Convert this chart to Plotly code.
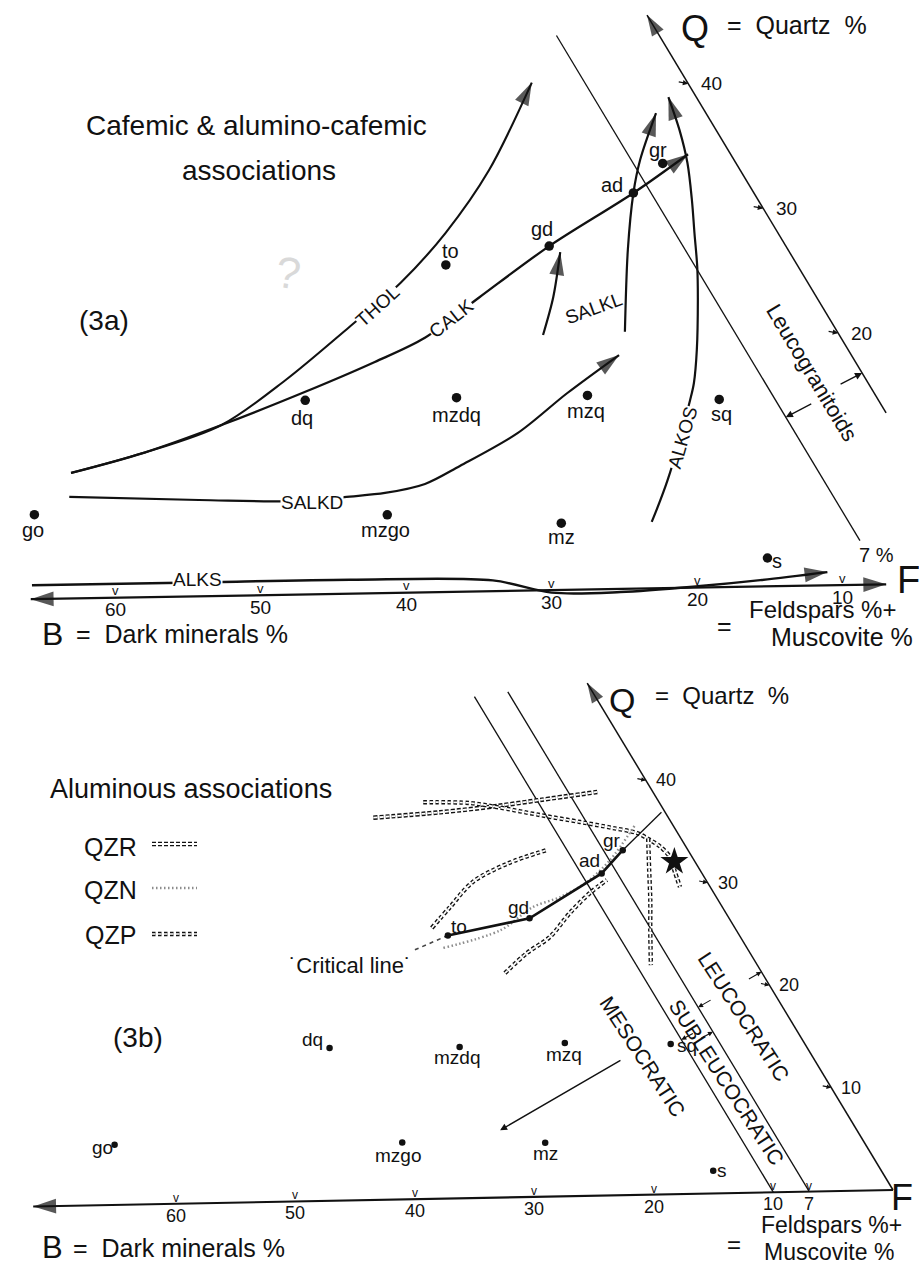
import math
import plotly.graph_objects as go

INK = "#111111"
FONT = "Liberation Sans, Arial, Helvetica, sans-serif"
W, H = 919, 1266

# ---------------- data  (B = dark minerals %, Q = quartz %) ----------------
rock_names = ["go", "mzgo", "mz", "s", "dq", "mzdq", "mzq", "sq", "to", "gd", "ad", "gr"]
rock_B_3a = [62.1, 38.1, 26.6, 14.0, 39.0, 28.6, 19.6, 10.8, 23.9, 16.1, 8.2, 5.0]
rock_Q_3a = [6.7, 6.2, 5.3, 2.25, 15.4, 15.4, 15.4, 14.9, 25.95, 27.3, 31.4, 33.7]
rock_B_3b = [62.1, 38.2, 26.4, 13.9, 39.5, 28.7, 19.8, 11.1, 24.1, 16.5, 8.3, 5.4]
rock_Q_3b = [5.8, 5.5, 5.2, 2.2, 14.75, 14.6, 14.8, 14.5, 25.4, 26.9, 31.1, 33.3]

b_ticks_3a = [60, 50, 40, 30, 20, 10]
b_ticks_3b = [60, 50, 40, 30, 20, 10, 7]
q_ticks_3a = [40, 30, 20]
q_ticks_3b = [40, 30, 20, 10]

# 3a : cafemic trends
thol_B = [57.9, 52.2, 45.7, 39.5, 33.0, 27.7, 22.6, 17.1, 10.6]
thol_Q = [9.96, 11.44, 13.56, 17.04, 21.16, 24.6, 28.5, 33.4, 40.3]
calk_B = [57.9, 52.2, 45.7, 38.7, 32.7, 28.3, 23.0, 16.1, 8.2, 2.9]
calk_Q = [9.96, 11.44, 13.56, 16.06, 18.35, 20.2, 23.3, 27.3, 31.4, 34.4]
salkd_B = [59.0, 50.3, 42.8, 40.3, 37.36, 34.27, 31.16, 25.9, 20.9, 15.8]
salkd_Q = [8.06, 7.64, 7.4, 7.67, 7.94, 8.6, 9.98, 12.5, 15.6, 18.56]
salkl_B = [14.45, 10.9, 8.2, 6.4, 3.4]
salkl_Q = [20.4, 26.9, 31.4, 34.0, 37.7]
salkl2_B = [20.15, 17.9, 15.6]
salkl2_Q = [20.26, 23.26, 26.8]
alkos_B = [20.4, 17.6, 12.8, 11.85, 10.3, 8.2, 6.9, 5.7, 4.5, 3.3, 2.5, 1.9]
alkos_Q = [5.27, 8.58, 14.9, 16.24, 18.86, 22.8, 25.4, 28.1, 30.78, 33.7, 36.3, 38.96]
alks_B = [65.15, 53.9, 43.3, 33.6, 30.1, 25.4, 19.9, 15.4, 10.5]
alks_Q = [1.1, 1.1, 1.1, 0.85, -0.2, -0.25, 0.1, 0.5, 1.05]

# 3b : aluminous trends
qzr_a_B = [24.4, 18.6, 13.6, 9.75, 4.6]
qzr_a_Q = [36.9, 37.3, 37.8, 38.3, 38.97]
qzr_c_B = [25.06, 22.5, 19.4, 15.65, 11.66]
qzr_c_Q = [26.15, 28.14, 30.5, 32.2, 33.46]
qzp_b_B = [19.5, 15.7, 13.65, 10.5, 7.5, 5.1, 3.36, 2.64, 2.13, 1.84, 2.17, 2.5]
qzp_b_Q = [38.3, 38.14, 37.7, 36.85, 36.1, 35.46, 34.93, 34.24, 33.6, 32.56, 31.1, 29.64]
qzp_e_B = [2.7, 4.2, 5.6, 7.1, 8.8]
qzp_e_Q = [34.4, 31.34, 28.45, 25.55, 22.16]
qzp_d_B = [21.26, 18.45, 15.75, 12.9, 10.25, 8.2]
qzp_d_Q = [21.66, 23.55, 25.06, 27.34, 29.23, 30.45]
qzn_B = [25.1, 19.5, 15.66, 12.9, 9.95, 6.94, 3.13]
qzn_Q = [24.2, 25.8, 27.98, 28.9, 30.3, 32.37, 35.7]
crit_ext_B = [5.4, 0.3]
crit_ext_Q = [33.3, 36.9]
crit_dash_B = [24.1, 27.6]
crit_dash_Q = [25.4, 24.05]
star_B = [1.7]
star_Q = [32.1]

# ---------------- geometry of the two (B,Q) ternary frames ----------------
# (F-corner px, F-corner py, px per %, scan rotation)
PA = (988.0, 582.5, 14.55, math.radians(1.0))
PB = (893.0, 1190.0, 11.96, math.radians(1.1))
S3 = math.sqrt(3) / 2


def proj(B, Q, P):
    ox, oy, s, th = P
    u = -(B + Q / 2.0)
    v = Q * S3
    c, sn = math.cos(th), math.sin(th)
    ur = u * c - v * sn
    vr = u * sn + v * c
    return ox + s * ur, oy - s * vr


def pts(Bs, Qs, P):
    xy = [proj(b, q, P) for b, q in zip(Bs, Qs)]
    return [p[0] for p in xy], [p[1] for p in xy]


fig = go.Figure()


def curve(Bs, Qs, P, width=2.2, color=INK, dash=None, smooth=True,
          head_end=False, head_start=False, head=24):
    xs, ys = pts(Bs, Qs, P)
    fig.add_trace(go.Scatter(
        x=xs, y=ys, mode="lines",
        line=dict(color=color, width=width, dash=dash,
                  shape="spline" if smooth else "linear", smoothing=0.9),
        hoverinfo="skip", showlegend=False))
    heads = []
    if head_end:
        heads.append(([xs[-2], xs[-1]], [ys[-2], ys[-1]]))
    if head_start:
        heads.append(([xs[1], xs[0]], [ys[1], ys[0]]))
    for hx, hy in heads:
        fig.add_trace(go.Scatter(
            x=hx, y=hy, mode="markers",
            marker=dict(symbol="arrow", size=[0, head], angleref="previous",
                        color=color, line=dict(width=0)),
            hoverinfo="skip", showlegend=False))


def ring_curve(Bs, Qs, P, w_out, w_in, dash):
    curve(Bs, Qs, P, width=w_out, color=INK, dash=dash)
    curve(Bs, Qs, P, width=w_in, color="white", dash=dash)


def text(x, y, s, size, angle=0, xanchor="center", bg=None, color=INK, xs=0, ys=0):
    kw = dict(x=x, y=y, xref="x", yref="y", text=s, showarrow=False,
              font=dict(family=FONT, size=size, color=color), textangle=angle,
              xanchor=xanchor, yanchor="middle", xshift=xs, yshift=ys, borderpad=0)
    if bg:
        kw["bgcolor"] = bg
    fig.add_annotation(**kw)


def arrow(x, y, ax, ay, width=1.3, size=1.0, head=2):
    fig.add_annotation(x=x, y=y, xref="x", yref="y", ax=ax, ay=ay, text="",
                       showarrow=True, arrowhead=head, arrowsize=size,
                       arrowwidth=width, arrowcolor=INK, standoff=0)


# ======================= PANEL 3a =======================
curve([65.8, 7.0], [0, 0], PA, width=2.2, smooth=False, head_end=True, head_start=True)
curve([0, 0], [13.6, 45.5], PA, width=1.5, smooth=False, head_end=True, head=22)
curve([7, 7], [3.5, 44.0], PA, width=1.3, smooth=False)
for b in b_ticks_3a:
    x, y = proj(b, 0, PA)
    text(x, y, "v", 13, ys=7)
    text(x, y, str(b), 19, ys=-12)
for q in q_ticks_3a:
    x, y = proj(0, q, PA)
    arrow(x, y, -11, -2, width=1.2, size=0.9)
    text(x, y, str(q), 19, xanchor="left", xs=12)

curve(alks_B, alks_Q, PA, width=2.4, head_end=True)
curve(salkd_B, salkd_Q, PA, width=2.2, head_end=True)
curve(thol_B, thol_Q, PA, width=2.1, head_end=True)
curve(calk_B, calk_Q, PA, width=2.3, head_end=True)
curve(salkl_B, salkl_Q, PA, width=2.2, head_end=True)
curve(salkl2_B, salkl2_Q, PA, width=2.2, head_end=True)
curve(alkos_B, alkos_Q, PA, width=2.2, head_end=True)

text(377, 306, "THOL", 19, angle=-42, bg="white")
text(451, 318, "CALK", 19, angle=-38, bg="white")
text(593, 308, "SALKL", 19, angle=-20)
text(682, 438, "ALKOS", 19, angle=-74, bg="white")
text(312, 502, "SALKD", 19, bg="white")
text(197, 579, "ALKS", 19, bg="white")

xa, ya = pts(rock_B_3a, rock_Q_3a, PA)
fig.add_trace(go.Scatter(x=xa, y=ya, mode="markers",
                         marker=dict(size=9.5, color=INK), hoverinfo="skip", showlegend=False))
off_3a = {"go": (-1, 15), "mzgo": (-2, 15), "mz": (0, 14), "s": (10, 3), "dq": (-3, 18),
          "mzdq": (0, 17), "mzq": (-1, 16), "sq": (2, 15), "to": (5, -14), "gd": (-7, -17),
          "ad": (-21, -8), "gr": (-5, -13)}
for n, x, y in zip(rock_names, xa, ya):
    dx, dy = off_3a[n]
    text(x, y, n, 20, xs=dx, ys=-dy)

x, y = proj(0, 16.8, PA)
arrow(x, y, -23, 12, width=1.3, size=1.1)
x, y = proj(7, 13.4, PA)
arrow(x, y, 27, -14, width=1.3, size=1.1)
text(812, 372, "Leucogranitoids", 22, angle=59)
text(876, 555, "7 %", 20)

text(256, 125, "Cafemic &amp; alumino-cafemic", 28)
text(259, 170, "associations", 28)
text(104, 320, "(3a)", 28)
text(288, 272, "?", 44, color="#d9d9d9", angle=8)
text(695, 28, "Q", 36)
text(797, 25, "=  Quartz  %", 25)
text(908, 580, "F", 38)
text(748, 609, "Feldspars %+", 24, xanchor="left")
text(724, 626, "=", 25)
text(770, 637, "Muscovite %", 25, xanchor="left")
text(52, 634, "B", 32)
text(75, 634, "=  Dark minerals %", 25, xanchor="left")

# ======================= PANEL 3b =======================
curve([71.9, 0], [0, 0], PB, width=2.2, smooth=False, head_start=True)
curve([0, 0], [0, 49.5], PB, width=1.5, smooth=False, head_end=True, head=21)
curve([10, 10], [0, 48.4], PB, width=1.3, smooth=False)
curve([7, 7], [0, 48.8], PB, width=1.3, smooth=False)
for b in b_ticks_3b:
    x, y = proj(b, 0, PB)
    text(x, y, "v", 12, ys=6)
    text(x, y, str(b), 18, ys=-12)
for q in q_ticks_3b:
    x, y = proj(0, q, PB)
    arrow(x, y, -10, -2, width=1.1, size=0.85)
    text(x, y, str(q), 18, xanchor="left", xs=9)

ring_curve(qzr_a_B, qzr_a_Q, PB, 4.6, 1.8, "4px,2px")
ring_curve(qzr_c_B, qzr_c_Q, PB, 4.4, 1.7, "3.5px,2.5px")
ring_curve(qzp_b_B, qzp_b_Q, PB, 4.4, 1.7, "3.5px,2.5px")
ring_curve(qzp_e_B, qzp_e_Q, PB, 4.4, 1.7, "3.5px,2.5px")
ring_curve(qzp_d_B, qzp_d_Q, PB, 4.4, 1.7, "3.5px,2.5px")
curve(qzn_B, qzn_Q, PB, width=2.4, color="#8c8c8c", dash="1.5px,2.5px")

curve(rock_B_3b[8:], rock_Q_3b[8:], PB, width=2.6, smooth=False)
curve(crit_ext_B, crit_ext_Q, PB, width=1.3, smooth=False)
curve(crit_dash_B, crit_dash_Q, PB, width=1.6, dash="4px,4px", smooth=False, color="#444444")

xb, yb = pts(rock_B_3b, rock_Q_3b, PB)
fig.add_trace(go.Scatter(x=xb, y=yb, mode="markers",
                         marker=dict(size=6.5, color=INK), hoverinfo="skip", showlegend=False))
sx, sy = pts(star_B, star_Q, PB)
fig.add_trace(go.Scatter(x=sx, y=sy, mode="markers",
                         marker=dict(symbol="star", size=21, color=INK), hoverinfo="skip", showlegend=False))
off_3b = {"go": (-12, 3), "mzgo": (-4, 13), "mz": (0, 11), "s": (9, 0), "dq": (-17, -9),
          "mzdq": (-3, 10), "mzq": (-1, 12), "sq": (16, 1), "to": (11, -9), "gd": (-11, -11),
          "ad": (-12, -13), "gr": (-11, -10)}
for n, x, y in zip(rock_names, xb, yb):
    dx, dy = off_3b[n]
    text(x, y, n, 19, xs=dx, ys=-dy)

text(744, 1016, "LEUCOCRATIC", 21, angle=57)
text(727, 1082, "SUBLEUCOCRATIC", 21, angle=57)
text(643, 1056, "MESOCRATIC", 21, angle=57)
x, y = proj(0, 21.3, PB)
arrow(x, y, -14, 8, width=1.1, size=0.9)
x, y = proj(7, 18.0, PB)
arrow(x, y, 14, -8, width=1.1, size=0.9)
x, y = proj(7, 15.6, PB)
arrow(x, y, -13, 7, width=1.1, size=0.9)
x, y = proj(10, 14.9, PB)
arrow(x, y, 13, -7, width=1.1, size=0.9)
tx, ty = proj(15.9, 13.1, PB)
hx, hy = proj(29.5, 6.5, PB)
arrow(hx, hy, tx - hx, ty - hy, width=1.4, size=1.0)

text(191, 789, "Aluminous associations", 27)
text(110, 847, "QZR", 25)
text(110, 890, "QZN", 25)
text(110, 935, "QZP", 25)
for (y0, wo, wi, dsh) in ((844, 4.6, 1.8, "4px,2px"), (934, 4.4, 1.7, "3.5px,2.5px")):
    fig.add_shape(type="line", x0=152, x1=197, y0=y0, y1=y0, xref="x", yref="y",
                  line=dict(color=INK, width=wo, dash=dsh))
    fig.add_shape(type="line", x0=152, x1=197, y0=y0, y1=y0, xref="x", yref="y",
                  line=dict(color="white", width=wi, dash=dsh))
fig.add_shape(type="line", x0=152, x1=197, y0=888, y1=888, xref="x", yref="y",
              line=dict(color="#8c8c8c", width=2.4, dash="1.5px,2.5px"))
text(350, 965, "˙Critical line˙", 22)
text(138, 1037, "(3b)", 28)
text(622, 700, "Q", 34)
text(722, 695, "=  Quartz  %", 24)
text(902, 1197, "F", 36)
text(760, 1225, "Feldspars %+", 23, xanchor="left")
text(734, 1244, "=", 24)
text(763, 1252, "Muscovite %", 23, xanchor="left")
text(52, 1247, "B", 31)
text(72, 1248, "=  Dark minerals %", 25, xanchor="left")

fig.update_layout(
    width=W, height=H, margin=dict(l=0, r=0, t=0, b=0),
    paper_bgcolor="white", plot_bgcolor="white", showlegend=False,
    xaxis=dict(range=[0, W], visible=False, fixedrange=True),
    yaxis=dict(range=[H, 0], visible=False, fixedrange=True),
)
fig.write_html("out.html", config={"displayModeBar": False},
               post_script="document.body.style.margin='0';")
